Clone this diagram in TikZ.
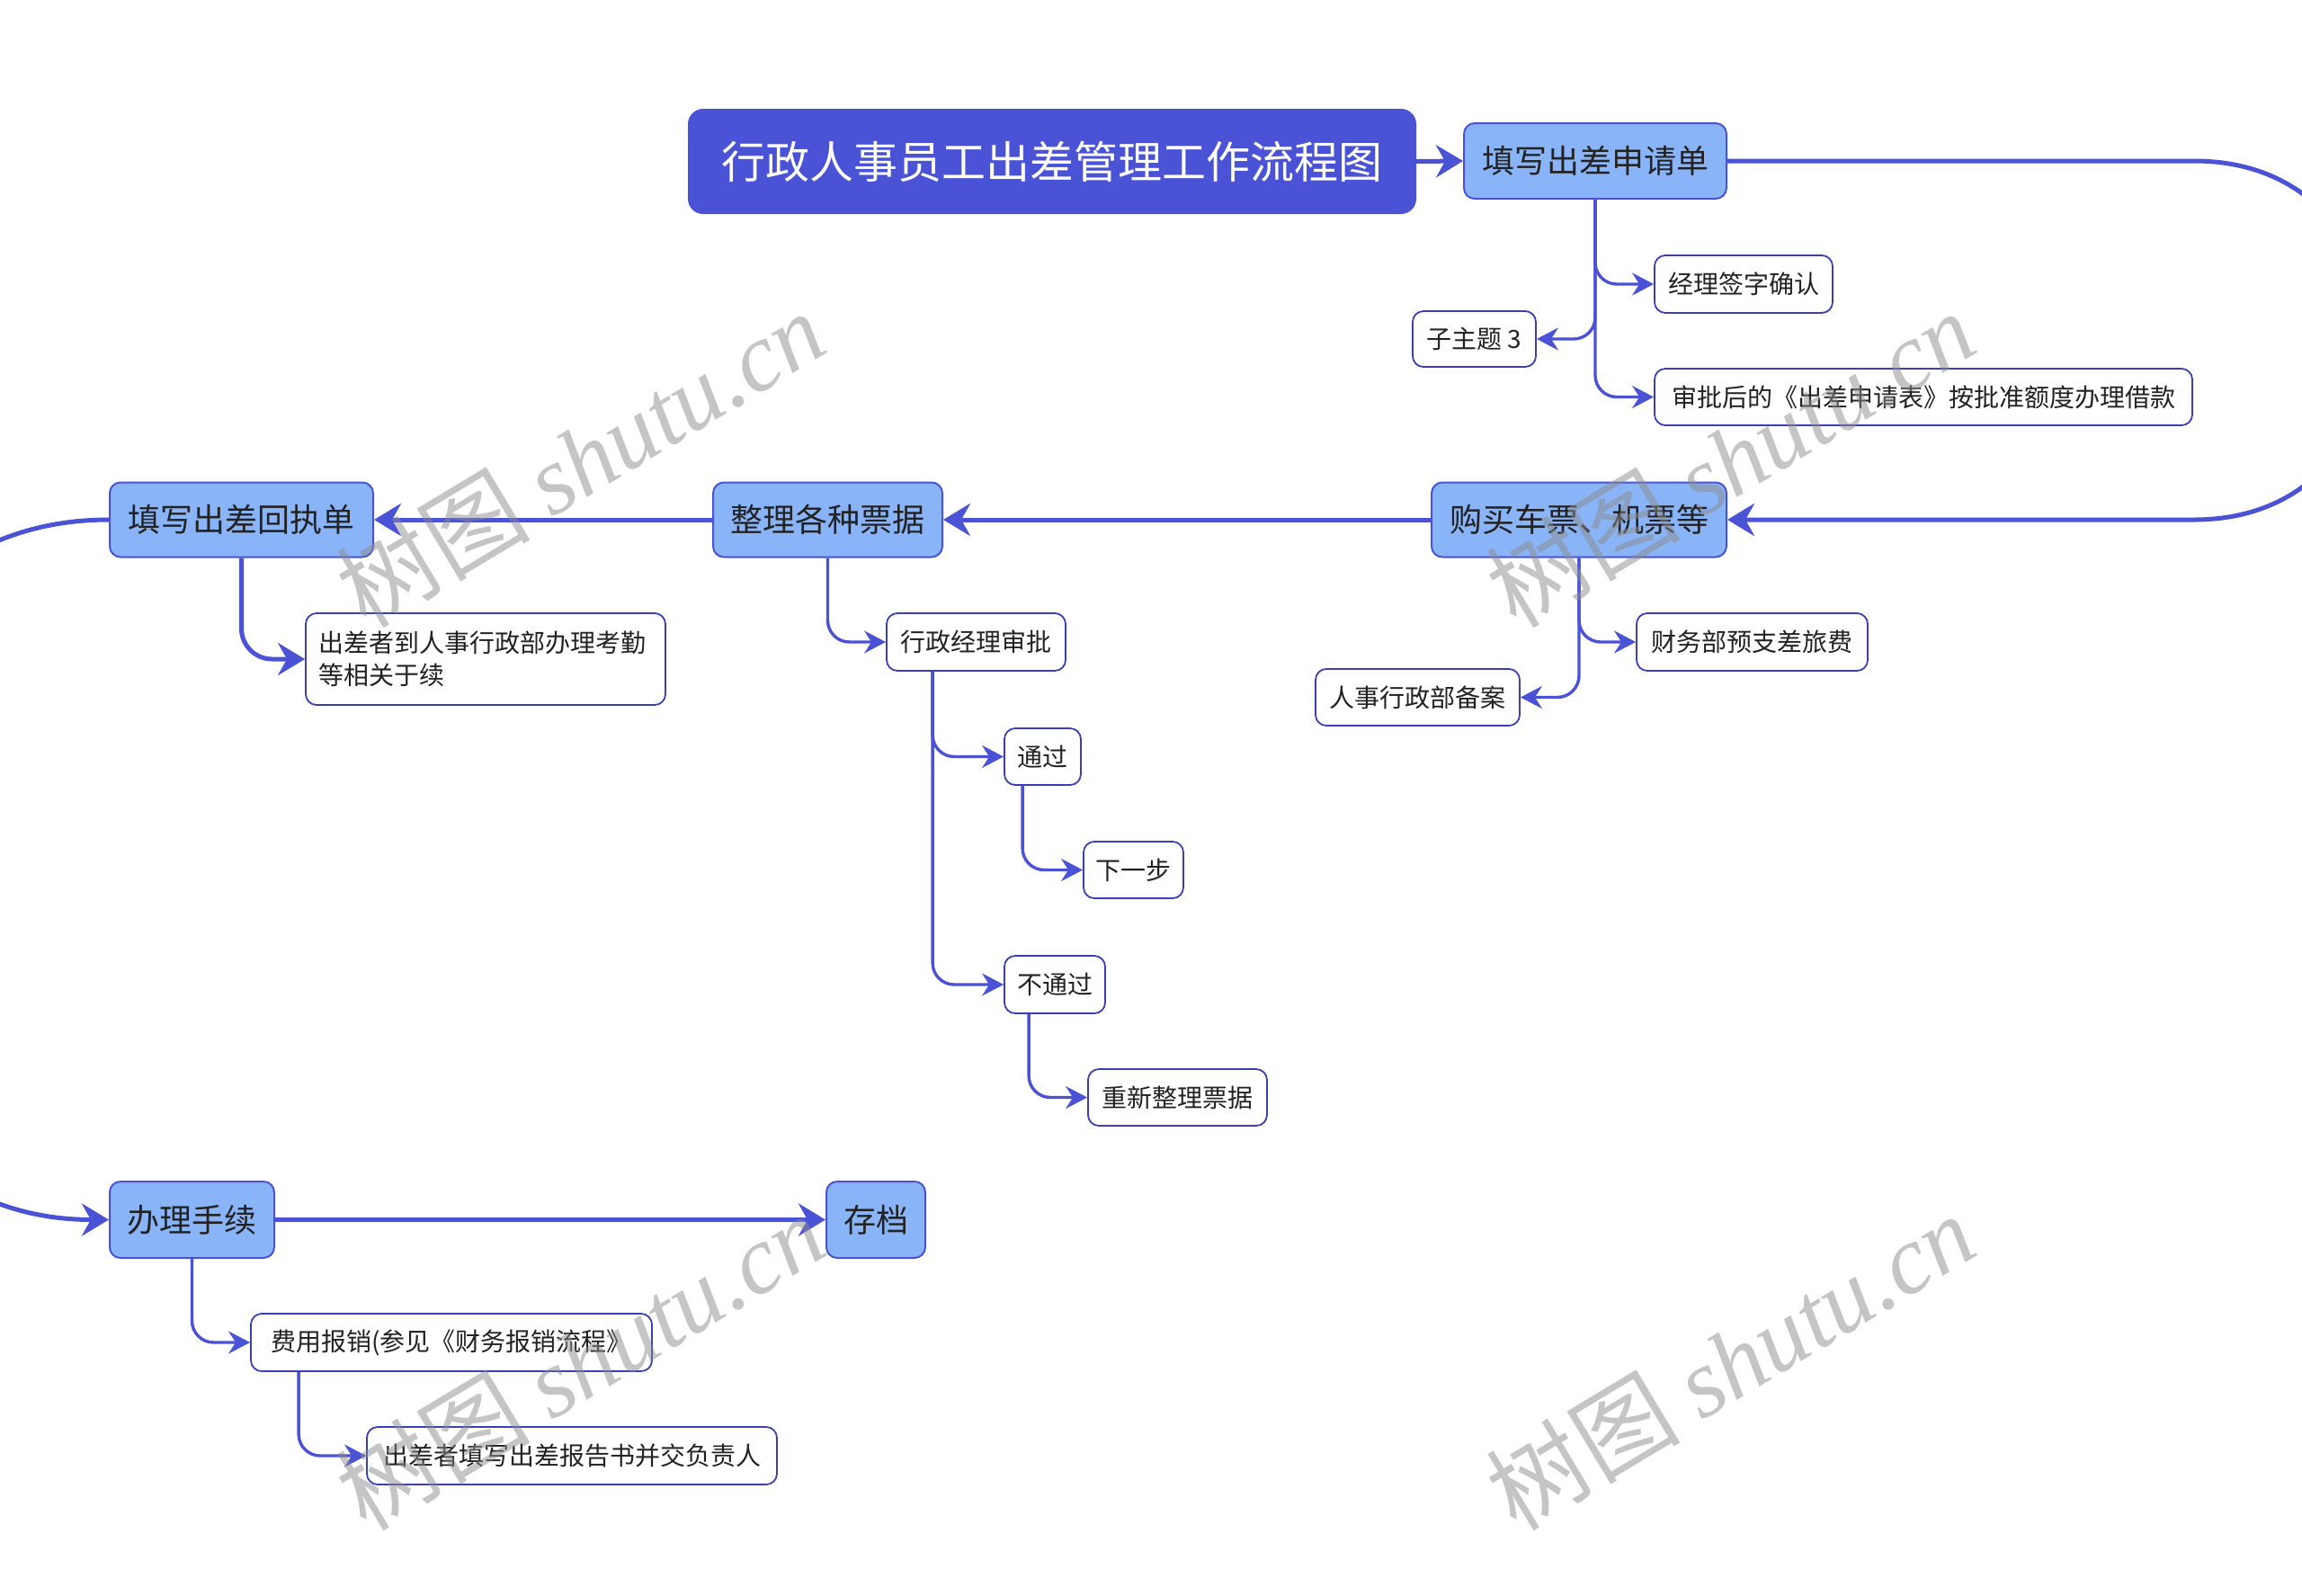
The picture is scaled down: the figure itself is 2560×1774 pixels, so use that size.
\documentclass[tikz,border=0pt]{standalone}
\usepackage{fontspec}
\setmainfont{Noto Sans CJK SC}
\newfontfamily\wmserif{Liberation Serif}
\usetikzlibrary{arrows.meta}
\definecolor{mainblue}{HTML}{4A52D6}
\definecolor{lightblue}{HTML}{8AB4F8}
\definecolor{subborder}{HTML}{3A3FB8}
\definecolor{txt}{HTML}{222222}
\begin{document}
\begin{tikzpicture}[x=0.5pt,y=-0.5pt,
  titlebox/.style={draw=mainblue, fill=mainblue, rounded corners=8pt, text=white,
    font=\fontsize{24.5pt}{28pt}\selectfont, line width=1pt, inner sep=0pt},
  mainbox/.style={draw=mainblue, fill=lightblue, rounded corners=6pt, text=txt,
    font=\fontsize{18pt}{22pt}\selectfont, line width=1pt, inner sep=0pt},
  subbox/.style={draw=subborder, fill=white, rounded corners=6pt, text=txt,
    font=\fontsize{14pt}{18pt}\selectfont, line width=0.9pt, inner sep=0pt},
  mainline/.style={draw=mainblue, line width=2.5pt, line join=round,
    -{Stealth[length=15pt,width=18pt,inset=5pt]}},
  subline/.style={draw=mainblue, line width=1.7pt, rounded corners=12pt,
    -{Stealth[length=12pt,width=12.5pt,inset=4pt]}},
  wm/.style={rotate=31, text=black!45, text opacity=0.5,
    font=\fontsize{54pt}{56pt}\selectfont, inner sep=0pt}
]
\fill[white] (0,0) rectangle (2560,1774);
\useasboundingbox (0,0) rectangle (2560,1774);

% main nodes
\node[titlebox, minimum width=404pt, minimum height=57.5pt] (title) at (1170,179.5) {行政人事员工出差管理工作流程图};
\node[mainbox, minimum width=146pt, minimum height=42pt] (fill1) at (1774,179) {填写出差申请单};
\node[mainbox, minimum width=164pt, minimum height=41.5pt] (buy) at (1756,578) {购买车票、机票等};
\node[mainbox, minimum width=127.5pt, minimum height=41.5pt] (sort) at (920.5,578) {整理各种票据};
\node[mainbox, minimum width=146.5pt, minimum height=41.5pt] (receipt) at (268.5,578) {填写出差回执单};
\node[mainbox, minimum width=91.5pt, minimum height=42.5pt] (proc) at (213.5,1356.5) {办理手续};
\node[mainbox, minimum width=55pt, minimum height=42.5pt] (archive) at (974,1356.5) {存档};

% sub nodes
\node[subbox, minimum width=99pt, minimum height=32pt] (c1) at (1939,316) {经理签字确认};
\node[subbox, minimum width=68.5pt, minimum height=31pt] (c2) at (1639.5,377) {子主题 3};
\node[subbox, minimum width=299pt, minimum height=31.5pt] (c3) at (2139,441.5) {审批后的《出差申请表》按批准额度办理借款};
\node[subbox, minimum width=128.5pt, minimum height=32pt] (d1) at (1948.5,714) {财务部预支差旅费};
\node[subbox, minimum width=113.5pt, minimum height=31.5pt] (d2) at (1576.5,775.5) {人事行政部备案};
\node[subbox, minimum width=99.5pt, minimum height=32pt] (e1) at (1085.5,714) {行政经理审批};
\node[subbox, minimum width=42.5pt, minimum height=31.5pt] (f1) at (1159.5,841.5) {通过};
\node[subbox, minimum width=55.5pt, minimum height=31.5pt] (f2) at (1260.5,967.5) {下一步};
\node[subbox, minimum width=56pt, minimum height=32pt] (f3) at (1173,1095) {不通过};
\node[subbox, minimum width=99.5pt, minimum height=31.5pt] (f4) at (1309.5,1220.5) {重新整理票据};
\node[subbox, minimum width=200pt, minimum height=51pt, text width=186pt, align=left] (g1) at (540,733) {出差者到人事行政部办理考勤\\等相关于续};
\node[subbox, minimum width=223pt, minimum height=32pt] (h1) at (502,1493) {费用报销(参见《财务报销流程》};
\node[subbox, minimum width=228pt, minimum height=32pt] (h2) at (636,1619) {出差者填写出差报告书并交负责人};

% main connectors
\draw[mainline] (title.east) -- (fill1.west);
\draw[mainline] (fill1.east) -- (2440,179) .. controls (2705,179) and (2705,578) .. (2440,578) -- (buy.east);
\draw[mainline] (buy.west) -- (sort.east);
\draw[mainline] (sort.west) -- (receipt.east);
\draw[mainline] (receipt.west) .. controls (-320,578) and (-320,1356.5) .. (proc.west);
\draw[mainline] (proc.east) -- (archive.west);
\draw[mainline, rounded corners=17pt] (receipt.south) |- (g1.west);

% sub connectors
\draw[subline] (fill1.south) |- (c1.west);
\draw[subline] (fill1.south) |- (c2.east);
\draw[subline] (fill1.south) |- (c3.west);
\draw[subline] (buy.south) |- (d1.west);
\draw[subline] (buy.south) |- (d2.east);
\draw[subline] (sort.south) |- (e1.west);
\draw[subline] ([xshift=26pt]e1.south west) |- (f1.west);
\draw[subline] ([xshift=26pt]e1.south west) |- (f3.west);
\draw[subline] ([xshift=10.5pt]f1.south west) |- (f2.west);
\draw[subline] ([xshift=14pt]f3.south west) |- (f4.west);
\draw[subline] (proc.south) |- (h1.west);
\draw[subline] ([xshift=27pt]h1.south west) |- (h2.west);

% watermarks
\node[wm] (wm1) at (645,510) {树图 {\wmserif\itshape shutu.cn}};
\node[wm] (wm2) at (1924,510) {树图 {\wmserif\itshape shutu.cn}};
\node[wm] (wm3) at (645,1514) {树图 {\wmserif\itshape shutu.cn}};
\node[wm] (wm4) at (1924,1514) {树图 {\wmserif\itshape shutu.cn}};
\end{tikzpicture}
\end{document}
